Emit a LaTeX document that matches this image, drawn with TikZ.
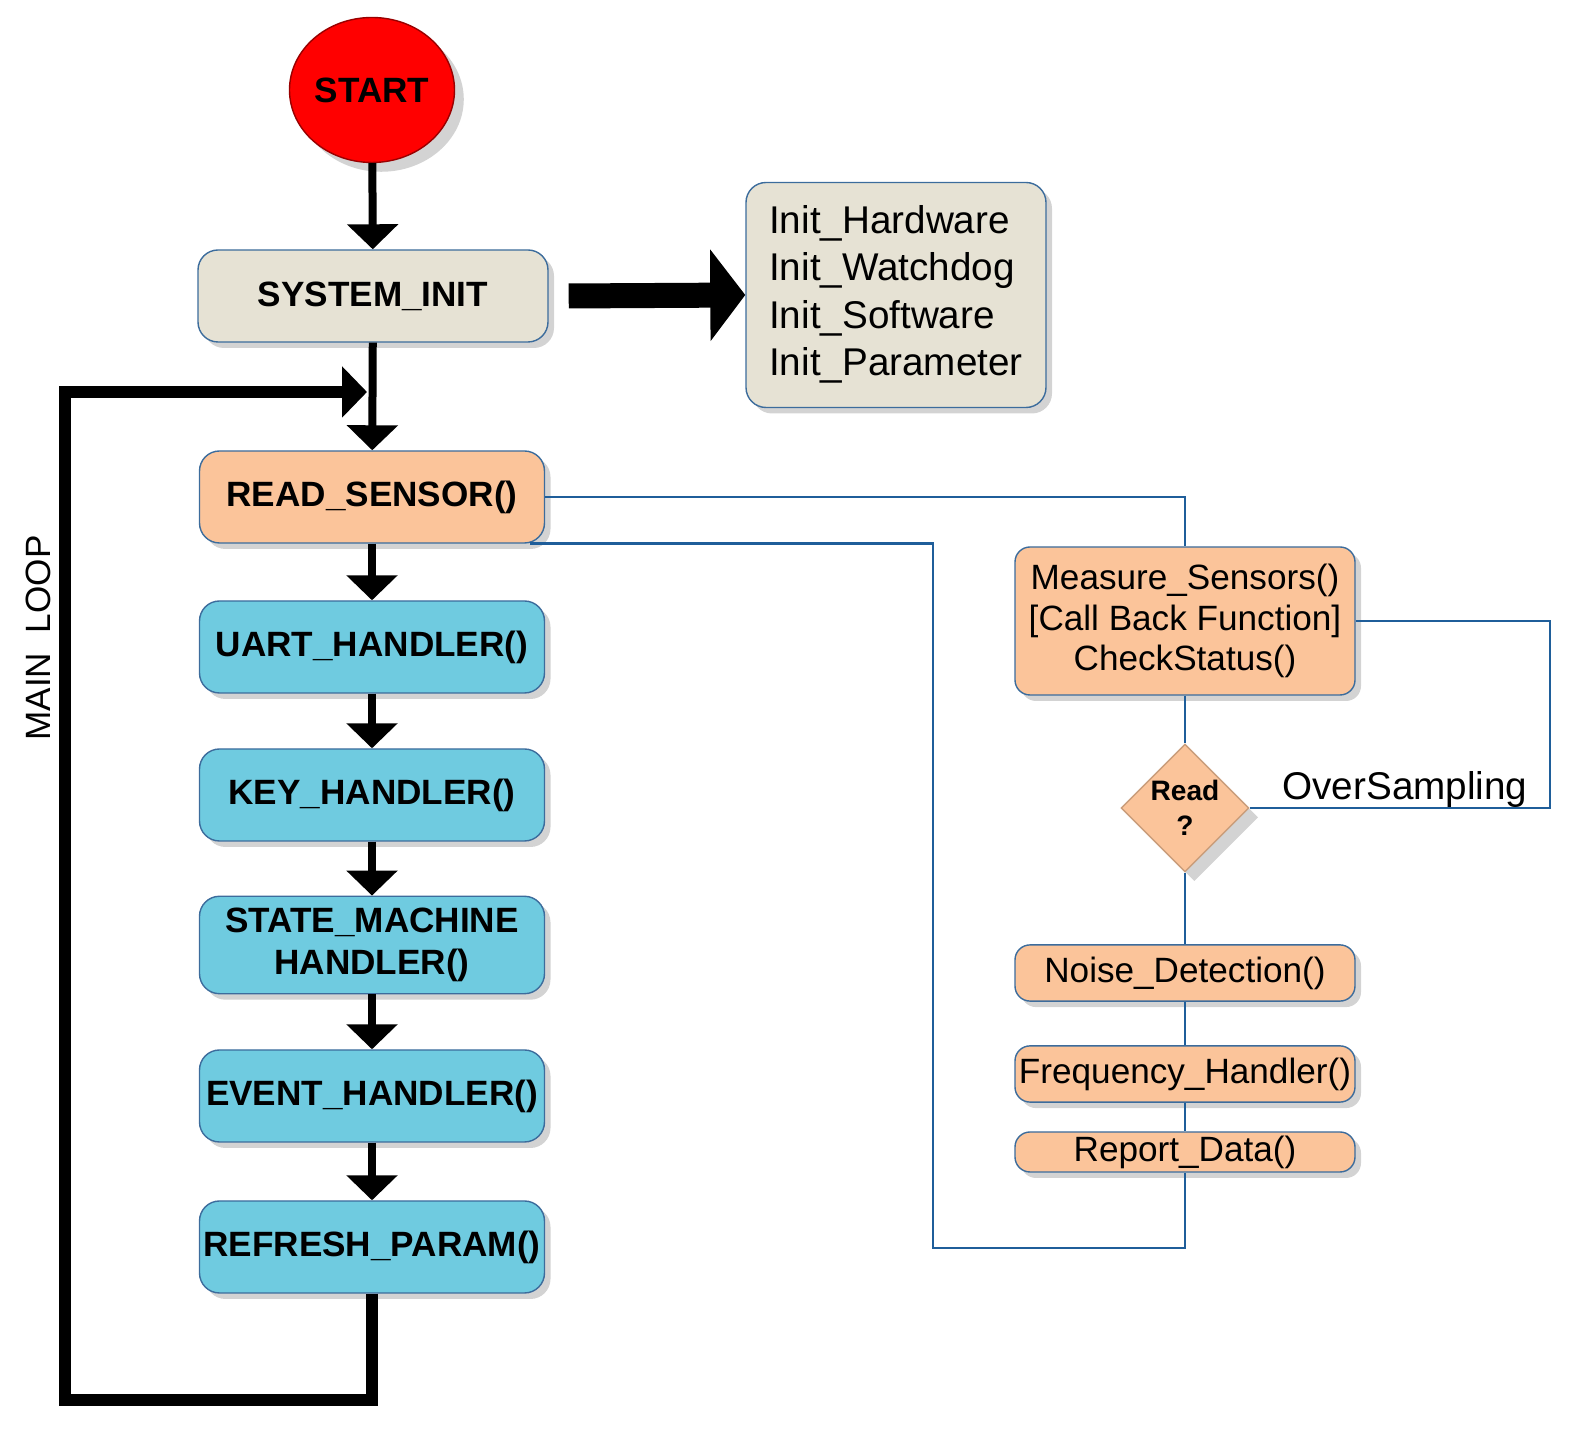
\documentclass[tikz,border=0pt]{standalone}
\usepackage{fontspec}
\setmainfont{Liberation Sans}
\usetikzlibrary{positioning}
\usetikzlibrary{shapes.geometric,shadows,arrows.meta}
\definecolor{beige}{HTML}{E6E2D4}
\definecolor{peach}{HTML}{FBC49A}
\definecolor{sky}{HTML}{6FCBE0}
\definecolor{rim}{HTML}{3C6C9C}
\definecolor{wire}{HTML}{1F5E9A}
\tikzstyle{block}=[draw=rim, rounded corners=2mm, minimum width=3.45cm, minimum height=0.92cm, inner xsep=1pt, align=center, font=\bfseries\fontsize{10}{12}\selectfont, drop shadow={shadow xshift=0.6mm, shadow yshift=-0.6mm, opacity=0.35}]
\tikzstyle{sub}=[draw=rim, rounded corners=1.5mm, fill=peach, minimum width=3.4cm, inner xsep=1pt, align=center, font=\fontsize{10}{11.5}\selectfont, drop shadow={shadow xshift=0.6mm, shadow yshift=-0.6mm, opacity=0.35}]
\tikzstyle{flow}=[line width=0.8mm, -{Triangle[length=2.5mm, width=5mm]}]
\tikzstyle{link}=[wire, line width=0.25mm]

\begin{document}
\begin{tikzpicture}
            \useasboundingbox (0,0) rectangle (15.81,14.43);
            \node[ellipse, fill=red, draw=red!60!black, minimum width=1.65cm, minimum height=1.45cm, inner sep=0pt, font=\bfseries\fontsize{10}{12}\selectfont, drop shadow={opacity=0.35}] (start) at (3.72,13.53) {START};
            \node[block, fill=beige, minimum width=3.5cm] (sysinit) at (3.73,11.47) {SYSTEM\_INIT};
            \node[block, fill=beige, minimum width=3cm, minimum height=2.25cm, font=\fontsize{11}{13.5}\selectfont] (init) at (8.96,11.48) {\begin{tabular}{@{}l@{}}Init\_Hardware\\Init\_Watchdog\\Init\_Software\\Init\_Parameter\end{tabular}};
            \node[block, fill=peach] (read) at (3.72,9.46) {READ\_SENSOR()};
            \node[block, fill=sky] (uart) at (3.72,7.96) {UART\_HANDLER()};
            \node[block, fill=sky] (key) at (3.72,6.48) {KEY\_HANDLER()};
            \node[block, fill=sky] (state) at (3.72,4.98) {STATE\_MACHINE\\HANDLER()};
            \node[block, fill=sky] (event) at (3.72,3.47) {EVENT\_HANDLER()};
            \node[block, fill=sky] (refresh) at (3.72,1.96) {REFRESH\_PARAM()};

            \node[sub, minimum height=1.48cm] (measure) at (11.85,8.22) {Measure\_Sensors()\\{[Call Back Function]}\\CheckStatus()};
            \node[diamond, draw=peach!80!black, fill=peach, minimum width=1.28cm, minimum height=1.28cm, inner sep=0pt, align=center, font=\bfseries\fontsize{8}{10}\selectfont, drop shadow={opacity=0.35}] (ask) at (11.85,6.35) {Read\\?};
            \node[sub, minimum height=0.47cm] (noise) at (11.85,4.70) {Noise\_Detection()};
            \node[sub, minimum height=0.47cm] (freq) at (11.85,3.69) {Frequency\_Handler()};
            \node[sub, minimum height=0.40cm, inner ysep=0.5pt] (report) at (11.85,2.91) {Report\_Data()};

            \coordinate (loopin) at (3.72,10.51);
            \coordinate (loopbl) at (0.65,0.43);

            \draw[flow] (start) -- (sysinit);
            \draw[flow] (sysinit) -- (read);
            \draw[flow] (read) -- (uart);
            \draw[flow] (uart) -- (key);
            \draw[flow] (key) -- (state);
            \draw[flow] (state) -- (event);
            \draw[flow] (event) -- (refresh);
            \draw[line width=2.5mm, -{Triangle[length=3.5mm, width=9mm]}] ([xshift=2mm]sysinit.east) -- (init.west);
            \draw[line width=1.2mm, -{Triangle[length=2.5mm, width=5mm]}] (refresh.south) |- (loopbl) |- ([xshift=-0.5mm]loopin);
            \node[rotate=90, font=\fontsize{10}{12}\selectfont] (mainloop) at (0.38,8.05) {MAIN\ \ LOOP};

            \draw[link] (read.east) -| (measure.north);
            \draw[link] ([xshift=-1.5mm]read.south east) -| (9.33,1.95) -| (report.south);
            \draw[link] (measure.east) -| (15.5,6.35) -- (ask.east);
            \draw[link] (measure) -- (ask);
            \draw[link] (ask) -- (noise);
            \draw[link] (noise) -- (freq);
            \draw[link] (freq) -- (report);
            \node[font=\fontsize{11}{13}\selectfont] (oversamp) at (14.05,6.53) {OverSampling};
        \end{tikzpicture}
\end{document}
